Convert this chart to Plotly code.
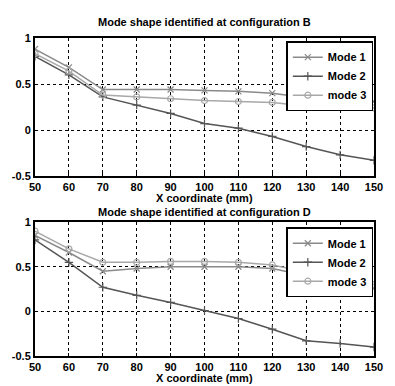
import plotly.graph_objects as go

x_mm = [50, 60, 70, 80, 90, 100, 110, 120, 130, 140, 150]

# Configuration B
b_mode1 = [0.88, 0.68, 0.44, 0.44, 0.44, 0.43, 0.42, 0.40, 0.35, 0.33, 0.31]
b_mode2 = [0.80, 0.60, 0.36, 0.27, 0.18, 0.07, 0.02, -0.07, -0.18, -0.27, -0.33]
b_mode3 = [0.83, 0.64, 0.38, 0.36, 0.34, 0.32, 0.31, 0.30, 0.26, 0.25, 0.24]

# Configuration D
d_mode1 = [0.85, 0.66, 0.45, 0.48, 0.50, 0.50, 0.50, 0.48, 0.40, 0.35, 0.26]
d_mode2 = [0.80, 0.55, 0.27, 0.18, 0.10, 0.01, -0.08, -0.20, -0.33, -0.36, -0.40]
d_mode3 = [0.90, 0.70, 0.55, 0.55, 0.56, 0.56, 0.55, 0.52, 0.44, 0.38, 0.30]

names = ["Mode 1", "Mode 2", "mode 3"]
colors = ["#8a8a8a", "#555555", "#a8a8a8"]
symbols = ["x-thin", "cross-thin", "circle-open"]

x_ticks = [50, 60, 70, 80, 90, 100, 110, 120, 130, 140, 150]
y_ticks = [-0.5, 0, 0.5, 1]
y_tick_text = ["-0.5", "0", "0.5", "1"]

fig = go.Figure()

for i, ys in enumerate([b_mode1, b_mode2, b_mode3]):
    fig.add_trace(go.Scatter(
        x=x_mm, y=ys, name=names[i], mode="lines+markers",
        line=dict(color=colors[i], width=1.5),
        marker=dict(symbol=symbols[i], size=6, color=colors[i],
                    line=dict(color=colors[i], width=1.2)),
        xaxis="x", yaxis="y", legend="legend"))

for i, ys in enumerate([d_mode1, d_mode2, d_mode3]):
    fig.add_trace(go.Scatter(
        x=x_mm, y=ys, name=names[i], mode="lines+markers",
        line=dict(color=colors[i], width=1.5),
        marker=dict(symbol=symbols[i], size=6, color=colors[i],
                    line=dict(color=colors[i], width=1.2)),
        xaxis="x2", yaxis="y2", legend="legend2"))

axis_common = dict(
    showline=True, linecolor="black", linewidth=2, mirror=True,
    showgrid=True, gridcolor="black", gridwidth=1.3, griddash="dot",
    zeroline=False, ticks="inside", ticklen=3, tickcolor="black",
    tickfont=dict(family="Liberation Sans", size=11, color="black", weight="bold"),
)

legend_common = dict(
    xref="paper", yref="paper", xanchor="right", yanchor="top",
    bgcolor="white", bordercolor="black", borderwidth=1.5,
    font=dict(size=11, color="black", weight="bold"),
    tracegroupgap=0, itemwidth=30,
)

fig.update_layout(
    width=395, height=386,
    margin=dict(l=28, r=13, t=38, b=30),
    paper_bgcolor="white", plot_bgcolor="white",
    font=dict(family="Liberation Sans", color="black"),
    xaxis=dict(domain=[0, 1], range=[50, 150], tickvals=x_ticks, anchor="y", **axis_common),
    yaxis=dict(domain=[0.566, 1], range=[-0.5, 1], tickvals=y_ticks, ticktext=y_tick_text,
               anchor="x", **axis_common),
    xaxis2=dict(domain=[0, 1], range=[50, 150], tickvals=x_ticks, anchor="y2", **axis_common),
    yaxis2=dict(domain=[0, 0.421], range=[-0.5, 1], tickvals=y_ticks, ticktext=y_tick_text,
                anchor="x2", **axis_common),
    legend=dict(x=0.998, y=0.99, **legend_common),
    legend2=dict(x=0.998, y=0.405, **legend_common),
    annotations=[
        dict(text="Mode shape identified at configuration B", x=0.5, y=1.0, xref="paper",
             yref="paper", yshift=8, showarrow=False, xanchor="center", yanchor="bottom",
             font=dict(size=11, color="black", weight="bold")),
        dict(text="X coordinate (mm)", x=0.5, y=0.566, xref="paper", yref="paper",
             yshift=-14, showarrow=False, xanchor="center", yanchor="top",
             font=dict(size=11, color="black", weight="bold")),
        dict(text="Mode shape identified at configuration D", x=0.5, y=0.421, xref="paper",
             yref="paper", yshift=2, showarrow=False, xanchor="center", yanchor="bottom",
             font=dict(size=11, color="black", weight="bold")),
        dict(text="X coordinate (mm)", x=0.5, y=0.0, xref="paper", yref="paper",
             yshift=-14, showarrow=False, xanchor="center", yanchor="top",
             font=dict(size=11, color="black", weight="bold")),
    ],
)

fig.write_html("out.html")
